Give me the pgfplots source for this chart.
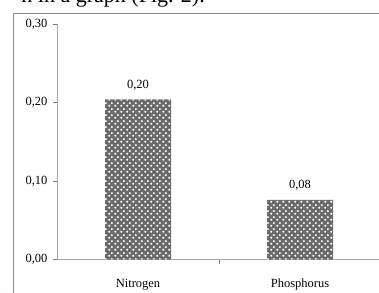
\documentclass[border=0pt]{standalone}
\usepackage{pgfplots}
\pgfplotsset{compat=1.18}
\usepackage{fontspec}
\setmainfont{Liberation Serif}
\usetikzlibrary{patterns}
\definecolor{framegray}{HTML}{8C8C8C}
\definecolor{axisgray}{HTML}{A8A8A8}
\definecolor{tickgray}{HTML}{7A7A7A}
\definecolor{bardark}{HTML}{6A6A6A}
\definecolor{edgewhite}{HTML}{FDFDFD}
\pgfdeclarepatternformonly{mydots}{\pgfqpoint{0pt}{0pt}}{\pgfqpoint{6pt}{6pt}}{\pgfqpoint{6pt}{6pt}}{%
  \pgfpathcircle{\pgfqpoint{1.5pt}{1.5pt}}{1.3pt}%
  \pgfpathcircle{\pgfqpoint{4.5pt}{4.5pt}}{1.3pt}%
  \pgfusepath{fill}%
}
\begin{document}
\begin{tikzpicture}
\path[use as bounding box, clip] (0pt,0pt) rectangle (379pt,292pt);
\draw[edgewhite, line width=1pt] (0pt,0pt) rectangle (379pt,292pt);
\node[anchor=base east, font=\fontsize{22}{24}\selectfont, inner sep=0pt] at (205pt,289pt) {h in a graph (Fig. 2).};
\draw[framegray, line width=0.9pt] (13pt,-5pt) -- (13pt,279pt) -- (395pt,279pt);
\begin{axis}[
  at={(57pt,32.5pt)}, anchor=south west,
  scale only axis, width=324pt, height=235.5pt,
  xmin=-0.5, xmax=1.5, ymin=0, ymax=0.3,
  axis x line*=bottom, axis y line*=left,
  axis line style={axisgray, line width=1pt},
  ytick={0,0.1,0.2,0.3},
  tick align=outside,
  major tick length=4pt,
  ytick style={tickgray, line width=0.7pt},
  xtick={0,1},
  xticklabels={Nitrogen,Phosphorus},
  xtick style={draw=none},
  extra x ticks={0.5},
  extra x tick labels={},
  extra x tick style={xtick style={draw=tickgray, line width=0.7pt}},
  tick label style={font=\fontsize{12.5}{14}\selectfont},
  yticklabel style={xshift=-2pt, /pgf/number format/.cd, use comma, fixed, fixed zerofill, precision=2, assume math mode=true},
  xticklabel style={anchor=base, yshift=-24pt},
  nodes near coords,
  nodes near coords style={font=\fontsize{12.5}{14}\selectfont, anchor=base, yshift=11pt, /pgf/number format/.cd, use comma, fixed, fixed zerofill, precision=2, assume math mode=true},
  clip=false,
]
\addplot[ybar, bar width=66pt, draw=none, fill=bardark, postaction={pattern=mydots, pattern color=white}] coordinates {(0,0.204) (1,0.076)};
\end{axis}
\end{tikzpicture}
\end{document}
